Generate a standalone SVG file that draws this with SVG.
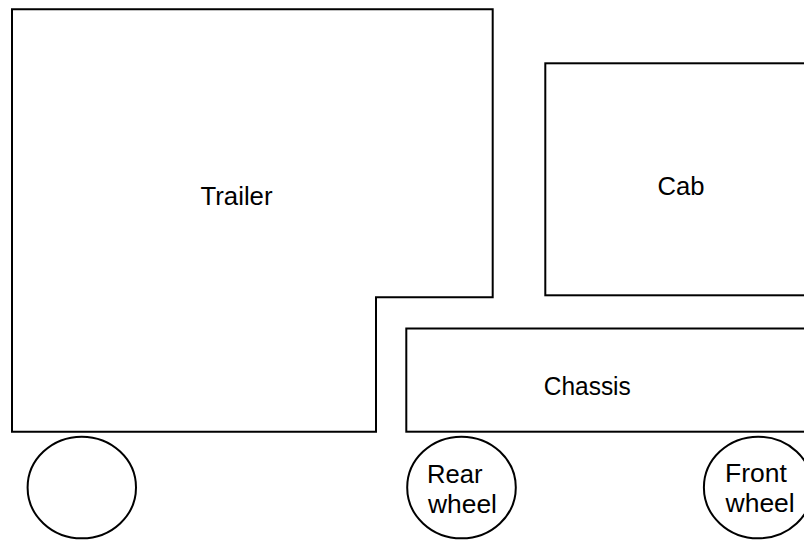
<svg xmlns="http://www.w3.org/2000/svg" width="804" height="540" viewBox="0 0 804 540">
  <style>
    .part { fill: #ffffff; stroke: #000000; stroke-width: 2; }
    .label { font-family: "Liberation Sans", Arial, sans-serif; font-size: 26.5px; fill: #000000; }
    .mid { text-anchor: middle; }
  </style>
  <rect width="804" height="540" fill="#ffffff"/>

  <!-- Trailer body with notch for the cab/chassis -->
  <g id="trailer">
    <path class="part" d="M12 9.3 H492.7 V297.3 H376 V431.7 H12 Z"/>
    <text class="label mid" x="236.5" y="205" textLength="72" lengthAdjust="spacingAndGlyphs">Trailer</text>
  </g>

  <!-- Cab (runs off the right edge) -->
  <g id="cab">
    <rect class="part" x="545.3" y="63.3" width="300" height="232"/>
    <text class="label mid" x="681" y="195" textLength="47" lengthAdjust="spacingAndGlyphs">Cab</text>
  </g>

  <!-- Chassis (runs off the right edge) -->
  <g id="chassis">
    <rect class="part" x="406.3" y="328.5" width="440" height="103.2"/>
    <text class="label mid" x="587.3" y="395" textLength="87" lengthAdjust="spacingAndGlyphs">Chassis</text>
  </g>

  <!-- Wheels -->
  <g id="trailer-wheel">
    <ellipse class="part" cx="81.8" cy="487.5" rx="54.2" ry="50.8"/>
  </g>

  <g id="rear-wheel">
    <ellipse class="part" cx="461.5" cy="487.5" rx="54.3" ry="50.8"/>
    <text class="label" x="427" y="483" textLength="55.5" lengthAdjust="spacingAndGlyphs">Rear</text>
    <text class="label" x="428" y="513" textLength="69" lengthAdjust="spacingAndGlyphs">wheel</text>
  </g>

  <g id="front-wheel">
    <ellipse class="part" cx="758.2" cy="487.5" rx="54.3" ry="50.8"/>
    <text class="label" x="725" y="482">Front</text>
    <text class="label" x="725.5" y="512">wheel</text>
  </g>

  <g id="connectors"></g>
</svg>
